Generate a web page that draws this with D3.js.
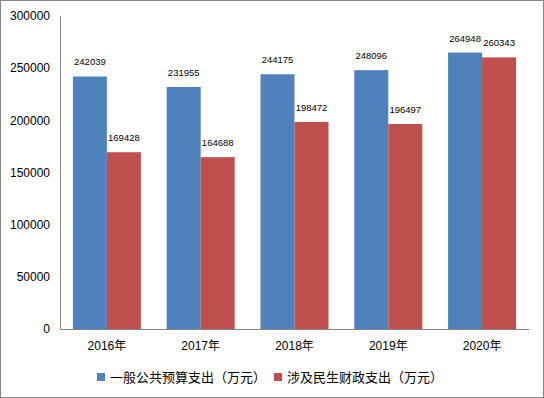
<!DOCTYPE html>
<html><head><meta charset="utf-8">
<script src="https://cdn.jsdelivr.net/npm/d3@7/dist/d3.min.js"></script>
<style>body{margin:0;background:#fff}svg{display:block}text{font-family:"Liberation Sans","Noto Sans CJK SC",sans-serif}</style>
</head><body><svg id="c" width="544" height="398"></svg>
<script>
const categories = ["2016年","2017年","2018年","2019年","2020年"];
const seriesNames = ["一般公共预算支出（万元）","涉及民生财政支出（万元）"];
const budget = [242039,231955,244175,248096,264948];
const livelihood = [169428,164688,198472,196497,260343];
const yTicks = [0,50000,100000,150000,200000,250000,300000];
const colors = ["#4F81BD","#C0504D"];

(function(){
const svg = d3.select("#c");
svg.append("rect").attr("x",0.5).attr("y",0.5).attr("width",543).attr("height",397)
  .attr("fill","#fff").attr("stroke","#868686");

const pL=60,pR=529,pT=16,pB=329;
const x = d3.scaleBand().domain(categories).range([pL,pR]).paddingInner(0.275).paddingOuter(0.1375);
const x1 = d3.scaleBand().domain([0,1]).range([0,x.bandwidth()]);
const y = d3.scaleLinear().domain([0,300000]).range([pB,pT]);

svg.append("g").selectAll("text").data(yTicks).join("text")
  .attr("x",50).attr("y",d=>y(d)).attr("dy","0.35em").attr("text-anchor","end")
  .attr("font-size",12).attr("fill","#000").text(d=>d);

const series=[budget,livelihood];
series.forEach((vals,si)=>{
  const g=svg.append("g");
  g.selectAll("rect").data(vals).join("rect")
    .attr("x",(d,i)=>x(categories[i])+x1(si)).attr("width",x1.bandwidth())
    .attr("y",d=>y(d)).attr("height",d=>y(0)-y(d)).attr("fill",colors[si]);
  g.selectAll("text").data(vals).join("text")
    .attr("x",(d,i)=>x(categories[i])+x1(si)+x1.bandwidth()/2)
    .attr("y",d=>y(d)-11).attr("text-anchor","middle")
    .attr("font-size",9.5).attr("fill","#000").text(d=>d);
});

svg.append("line").attr("x1",pL+0.5).attr("x2",pL+0.5).attr("y1",pT).attr("y2",pB).attr("stroke","#868686");
svg.append("line").attr("x1",pL).attr("x2",pR).attr("y1",pB+0.5).attr("y2",pB+0.5).attr("stroke","#868686");

svg.append("g").selectAll("text").data(categories).join("text")
  .attr("x",d=>x(d)+x.bandwidth()/2).attr("y",346).attr("dy","0.35em").attr("text-anchor","middle")
  .attr("font-size",12).attr("fill","#000").text(d=>d);

const leg=[{x:97,tx:110},{x:274,tx:287}];
leg.forEach((l,i)=>{
  svg.append("rect").attr("x",l.x).attr("y",373).attr("width",8).attr("height",8).attr("fill",colors[i]);
  svg.append("text").attr("x",l.tx).attr("y",377).attr("dy","0.35em").attr("font-size",13)
    .attr("font-family","Noto Sans CJK SC").attr("fill","#000").text(seriesNames[i]);
});
})();
</script></body></html>
